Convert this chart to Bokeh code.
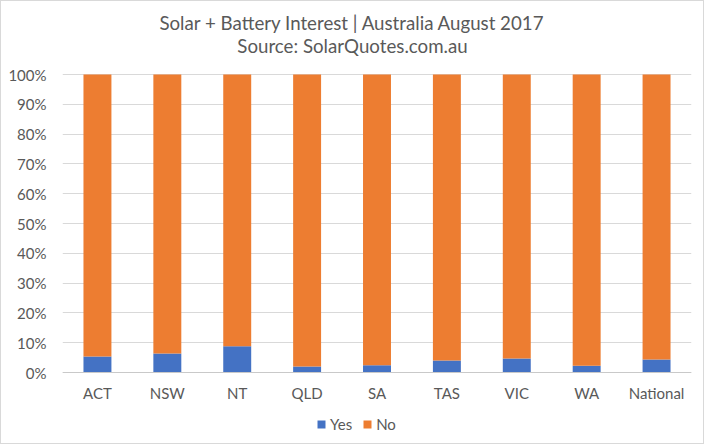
from bokeh.plotting import figure
from bokeh.models import ColumnDataSource, FixedTicker, NumeralTickFormatter, Legend, LegendItem, Range1d, Label, Span
from bokeh.core.properties import value
from bokeh.embed import file_html
from bokeh.resources import INLINE

categories = ["ACT", "NSW", "NT", "QLD", "SA", "TAS", "VIC", "WA", "National"]
yes_pct = [5.4, 6.4, 8.8, 2.0, 2.4, 4.0, 4.7, 2.3, 4.4]
no_pct = [100 - v for v in yes_pct]
y_ticks = [i / 10 for i in range(11)]
title_main = "Solar + Battery Interest | Australia August 2017"
title_sub = "Source: SolarQuotes.com.au"

src = ColumnDataSource(dict(cat=categories,
                            yes=[v / 100 for v in yes_pct],
                            no=[v / 100 for v in no_pct],
                            base=[0] * len(categories)))

FONT = "Lato"
TXT = "#595959"

# layout (pixels): frame covers whole height; 0..1 spans 298 px,
# 73 px above the 100% line, 69 px below the 0% line
H = 444
BORDER_BOTTOM = 4
ABOVE_PX, BELOW_PX, UNIT_PX = 73, 69, 298.0

p = figure(x_range=categories, width=704, height=H, output_backend="svg",
           toolbar_location=None, min_border_left=61, min_border_right=14,
           min_border_top=0, min_border_bottom=BORDER_BOTTOM)
p.styles = {"border": "1px solid #d9d9d9"}
p.y_range = Range1d(-BELOW_PX / UNIT_PX, 1.0 + ABOVE_PX / UNIT_PX)

r = p.vbar_stack(["yes", "no"], x="cat", width=0.4, source=src,
                 color=["#4472C4", "#ED7D31"], line_color=None)

frame_h = H - BORDER_BOTTOM
for txt, y_from_top in [(title_main, 21), (title_sub, 44)]:
    p.add_layout(Label(x=290, y=frame_h - y_from_top, x_units="screen", y_units="screen",
                       text=txt, text_align="center", text_baseline="middle",
                       text_font=FONT, text_font_size="18.7px", text_color=TXT))

p.yaxis.ticker = FixedTicker(ticks=y_ticks)
p.yaxis.formatter = NumeralTickFormatter(format="0%")
p.yaxis.axis_line_color = None
p.yaxis.major_tick_line_color = None
p.yaxis.minor_tick_line_color = None
p.yaxis.major_tick_out = 0
p.yaxis.major_tick_in = 0
p.yaxis.major_label_standoff = 16
p.yaxis.major_label_text_font = FONT
p.yaxis.major_label_text_font_size = "15px"
p.yaxis.major_label_text_color = TXT

p.xaxis.visible = False
p.xgrid.grid_line_color = None
p.ygrid.grid_line_color = "#d9d9d9"
p.ygrid.ticker = FixedTicker(ticks=y_ticks)
p.outline_line_color = None
p.add_layout(Span(location=0, dimension="width", line_color="#c9c9c9", line_width=1))

# category labels under the baseline
p.text(x="cat", y="base", text="cat", source=src, text_align="center",
       text_baseline="middle", y_offset=20, text_font=value(FONT),
       text_font_size="15px", text_color=TXT)

legend = Legend(items=[LegendItem(label="Yes", renderers=[r[0]]),
                       LegendItem(label="No", renderers=[r[1]])],
                orientation="horizontal", location=(254, 8),
                label_text_font=FONT, label_text_font_size="15px", label_text_color=TXT,
                glyph_width=10, glyph_height=10, spacing=10, border_line_color=None,
                background_fill_alpha=0, label_standoff=4, padding=0, margin=0)
p.add_layout(legend, "center")

open("out.html", "w").write(file_html(p, INLINE))
